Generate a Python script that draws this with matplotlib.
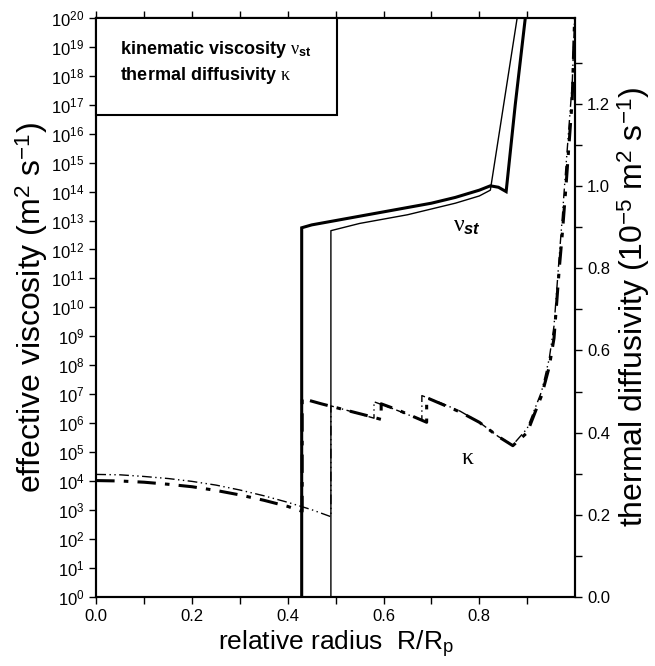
import numpy as np
import matplotlib
matplotlib.use("Agg")
import matplotlib.pyplot as plt
from matplotlib.ticker import LogLocator, NullLocator, FixedLocator, FormatStrFormatter
from matplotlib.patches import Rectangle

plt.rcParams["font.family"] = ["Liberation Sans", "DejaVu Sans"]
plt.rcParams["mathtext.fontset"] = "custom"
plt.rcParams["mathtext.rm"] = "Liberation Sans"
plt.rcParams["mathtext.it"] = "Liberation Serif"
plt.rcParams["mathtext.bf"] = "Liberation Sans:bold"
plt.rcParams["mathtext.bfit"] = "Liberation Sans:bold:italic"

# kinematic viscosity nu_st, log10 (m^2/s), two models (thick / thin)
r_nu_thick = [0.429, 0.429, 0.45, 0.50, 0.55, 0.60, 0.65, 0.70, 0.75, 0.80, 0.823, 0.84, 0.856, 0.875, 0.896]
lognu_thick = [0.0, 12.75, 12.85, 13.0, 13.15, 13.3, 13.45, 13.6, 13.8, 14.05, 14.2, 14.15, 14.0, 17.0, 20.0]
r_nu_thin = [0.49, 0.49, 0.55, 0.60, 0.65, 0.70, 0.75, 0.80, 0.823, 0.879]
lognu_thin = [0.0, 12.65, 12.9, 13.05, 13.2, 13.4, 13.6, 13.85, 14.05, 20.0]

# thermal diffusivity kappa (1e-5 m^2/s)
r_k_thick = [0.0, 0.05, 0.10, 0.15, 0.20, 0.25, 0.30, 0.35, 0.40, 0.43,
             0.43, 0.47, 0.52, 0.57, 0.595,
             0.595, 0.63, 0.66, 0.69,
             0.69, 0.72, 0.76, 0.80, 0.84, 0.87,
             0.90, 0.93, 0.946, 0.956, 0.967, 0.973, 0.981, 0.994, 0.999]
k_thick = [0.283, 0.282, 0.279, 0.274, 0.268, 0.259, 0.248, 0.235, 0.22, 0.208,
           0.483, 0.47, 0.455, 0.44, 0.432,
           0.47, 0.455, 0.44, 0.425,
           0.485, 0.47, 0.45, 0.425, 0.39, 0.368,
           0.40, 0.49, 0.56, 0.63, 0.80, 0.88, 1.0, 1.21, 1.41]
r_k_thin = [0.0, 0.05, 0.10, 0.15, 0.20, 0.25, 0.30, 0.35, 0.40, 0.45, 0.49,
            0.49, 0.53, 0.58,
            0.58, 0.62, 0.68,
            0.68, 0.72, 0.76, 0.80, 0.84, 0.87,
            0.90, 0.93, 0.946, 0.956, 0.967, 0.973, 0.981, 0.994, 0.999]
k_thin = [0.298, 0.297, 0.293, 0.288, 0.281, 0.272, 0.26, 0.246, 0.23, 0.212, 0.195,
          0.465, 0.452, 0.435,
          0.475, 0.458, 0.43,
          0.49, 0.472, 0.452, 0.425, 0.39, 0.37,
          0.41, 0.50, 0.58, 0.66, 0.83, 0.92, 1.05, 1.25, 1.41]

x_ticks = [0.0, 0.2, 0.4, 0.6, 0.8]
k_ticks = [0.0, 0.2, 0.4, 0.6, 0.8, 1.0, 1.2]

fig = plt.figure(figsize=(6.55, 6.66), dpi=100)
ax = fig.add_axes([0.147, 0.104, 0.731, 0.869])
ax2 = ax.twinx()

ax.plot(r_nu_thick, 10 ** np.array(lognu_thick), color="black", lw=2.2, solid_joinstyle="miter")
ax.plot(r_nu_thin, 10 ** np.array(lognu_thin), color="black", lw=1.0)
ax2.plot(r_k_thick, k_thick, color="black", lw=2.2, dashes=(6, 3, 1.5, 3))
ax2.plot(r_k_thin, k_thin, color="black", lw=1.0, dashes=(7, 2.5, 1, 2.5, 1, 2.5))

ax.set_yscale("log")
ax.set_ylim(1, 1e20)
ax.set_xlim(0, 1.0)
ax2.set_ylim(0, 1.41)
ax.yaxis.set_major_locator(LogLocator(base=10, numticks=30))
ax.yaxis.set_minor_locator(NullLocator())
ax.set_xticks(x_ticks)
ax.xaxis.set_minor_locator(FixedLocator(np.arange(0.1, 1.0, 0.2)))
ax.xaxis.set_major_formatter(FormatStrFormatter("%.1f"))
ax2.set_yticks(k_ticks)
ax2.yaxis.set_minor_locator(FixedLocator(np.arange(0.1, 1.4, 0.2)))
ax2.yaxis.set_major_formatter(FormatStrFormatter("%.1f"))

for a in (ax, ax2):
    a.tick_params(which="major", direction="out", length=5, width=1, labelsize=12)
    a.tick_params(which="minor", direction="out", length=5, width=1)
    for s in a.spines.values():
        s.set_linewidth(1.5)
ax.tick_params(axis="x", which="both", top=True)

ax.set_xlabel(r"relative radius  R/R$_\mathrm{p}$", fontsize=19)
ax.set_ylabel(r"effective viscosity (m$^2$ s$^{-1}$)", fontsize=23, labelpad=1)
ax2.set_ylabel(r"thermal diffusivity (10$^{-5}$ m$^2$ s$^{-1}$)", fontsize=23, labelpad=4)

ax.text(0.775, 10 ** 12.8, r"$\nu_{\mathbfit{st}}$", fontsize=17, ha="center", va="center")
ax2.text(0.775, 0.339, r"$\kappa$", fontsize=17, ha="center", va="center")

ax2.add_patch(Rectangle((0, 0.8325), 0.503, 0.1675, transform=ax2.transAxes,
                        facecolor="white", edgecolor="black", lw=1.5, zorder=5, clip_on=False))
ax2.text(0.05, 0.945, r"kinematic viscosity $\nu_{\mathbf{st}}$", transform=ax2.transAxes,
         fontsize=13, fontweight="bold", va="center", zorder=6)
ax2.text(0.05, 0.90, r"thermal diffusivity $\kappa$", transform=ax2.transAxes,
         fontsize=13, fontweight="bold", va="center", zorder=6)

fig.savefig("out.png", dpi=100)
